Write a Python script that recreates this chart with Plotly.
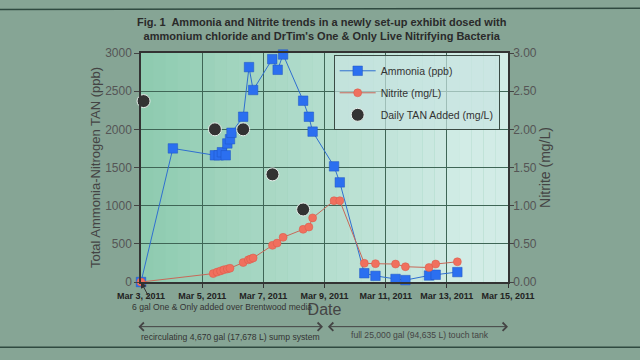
import plotly.graph_objects as go

# ---------------- data ----------------
amm_dates = ["2011-03-03 00:00", "2011-03-04 01:00", "2011-03-05 10:00", "2011-03-05 13:00",
             "2011-03-05 15:30", "2011-03-05 18:30", "2011-03-05 19:45", "2011-03-05 21:50",
             "2011-03-05 23:00", "2011-03-06 08:10", "2011-03-06 12:45", "2011-03-06 16:00",
             "2011-03-07 07:00", "2011-03-07 11:15", "2011-03-07 15:30", "2011-03-08 07:15",
             "2011-03-08 11:45", "2011-03-08 14:40", "2011-03-09 07:30", "2011-03-09 12:00",
             "2011-03-10 07:15", "2011-03-10 16:00", "2011-03-11 07:45", "2011-03-11 15:30",
             "2011-03-12 10:00", "2011-03-12 15:15", "2011-03-13 08:15"]
ammonia_ppb = [0, 1750, 1660, 1660, 1700, 1660, 1815, 1870, 1955, 2165, 2815, 2515,
               2920, 2780, 2980, 2375, 2165, 1970, 1515, 1305, 115, 80, 40, 25, 85, 95, 130]

nit_dates = ["2011-03-03 00:00", "2011-03-05 08:40", "2011-03-05 11:45", "2011-03-05 14:25",
             "2011-03-05 17:00", "2011-03-05 19:45", "2011-03-05 21:50", "2011-03-06 08:10",
             "2011-03-06 12:15", "2011-03-06 14:00", "2011-03-06 16:00", "2011-03-07 07:10",
             "2011-03-07 10:50", "2011-03-07 15:30", "2011-03-08 07:15", "2011-03-08 11:45",
             "2011-03-08 14:40", "2011-03-09 07:30", "2011-03-09 12:00", "2011-03-10 07:15",
             "2011-03-10 16:00", "2011-03-11 07:45", "2011-03-11 15:30", "2011-03-12 10:00",
             "2011-03-12 15:15", "2011-03-13 08:15"]
nitrite_mgl = [0, 0.11, 0.13, 0.145, 0.16, 0.17, 0.18, 0.255, 0.29, 0.30, 0.315, 0.48,
               0.51, 0.585, 0.69, 0.72, 0.84, 1.065, 1.065, 0.245, 0.24, 0.235, 0.20,
               0.19, 0.235, 0.265]

tan_dates = ["2011-03-03 02:00", "2011-03-05 10:00", "2011-03-06 08:10", "2011-03-07 07:10",
             "2011-03-08 07:15"]
tan_added_mgl = [2.37, 2.0, 2.0, 1.41, 0.95]

x_range = ["2011-03-03", "2011-03-15"]
tick_vals = ["2011-03-03", "2011-03-05", "2011-03-07", "2011-03-09",
             "2011-03-11", "2011-03-13", "2011-03-15"]
tick_text = ["Mar 3, 2011", "Mar 5, 2011", "Mar 7, 2011", "Mar 9, 2011",
             "Mar 11, 2011", "Mar 13, 2011", "Mar 15, 2011"]

title_text = ("<b>Fig. 1  Ammonia and Nitrite trends in a newly set-up exhibit dosed with<br>"
              "ammonium chloride and DrTim's One &amp; Only Live Nitrifying Bacteria</b>")

FONT = "Liberation Sans, Arial, sans-serif"
GRID = "#3f6656"

fig = go.Figure()
fig.add_trace(go.Scatter(
    x=amm_dates, y=ammonia_ppb, name="Ammonia (ppb)", mode="lines+markers",
    legendgroup="a",
    line=dict(color="#2f6fd0", width=1),
    marker=dict(symbol="square", size=9.5, color="#2b6ff0",
                line=dict(color="#1f55c0", width=0.5)),
    cliponaxis=False,
))
fig.add_trace(go.Scatter(
    x=nit_dates, y=nitrite_mgl, name="Nitrite (mg/L)", mode="lines+markers",
    yaxis="y2", legendgroup="n",
    line=dict(color="#c86858", width=1),
    marker=dict(symbol="circle", size=8, color="#f0705e",
                line=dict(color="#d85848", width=0.5)),
    cliponaxis=False,
))
fig.add_trace(go.Scatter(
    x=tan_dates, y=tan_added_mgl, name="Daily TAN Added (mg/L)", mode="markers",
    yaxis="y2", legendgroup="t",
    marker=dict(symbol="circle", size=13, color="#333333",
                line=dict(color="#e8f0ec", width=1)),
    cliponaxis=False,
))

annotations = [
    dict(text=title_text, xref="paper", yref="paper", x=0.492, y=1.0, xanchor="center",
         yanchor="bottom", yshift=9, showarrow=False,
         font=dict(family=FONT, size=11, color="#2a2a2a")),
    dict(text="6 gal One &amp; Only added over Brentwood media", xref="paper", yref="paper",
         x=-0.03, y=0, xanchor="left", yanchor="top", yshift=-18, showarrow=False,
         font=dict(family=FONT, size=8.6, color="#333333")),
    dict(x="2011-03-03", y=0, xref="x", yref="y", ax=10, ay=19, axref="pixel", ayref="pixel",
         text="", showarrow=True, arrowhead=2, arrowsize=1.2, arrowwidth=1, arrowcolor="#333333"),
    dict(text="recirculating 4,670 gal (17,678 L) sump system", xref="paper", yref="paper",
         x=0.245, y=0, xanchor="center", yanchor="top", yshift=-48, showarrow=False,
         font=dict(family=FONT, size=8.6, color="#333333")),
    dict(text="full 25,000 gal (94,635 L) touch tank", xref="paper", yref="paper",
         x=0.76, y=0, xanchor="center", yanchor="top", yshift=-46, showarrow=False,
         font=dict(family=FONT, size=8.6, color="#444444")),
    # double-headed range arrows
    dict(x="2011-03-02 22:00", y=-0.195, xref="x", yref="y domain", ax="2011-03-09 00:00",
         ay=-0.195, axref="x", ayref="y domain", text="", showarrow=True, arrowhead=4,
         startarrowhead=4, arrowside="end+start", arrowsize=1.6, arrowwidth=1,
         arrowcolor="#444444"),
    dict(x="2011-03-15 00:00", y=-0.195, xref="x", yref="y domain", ax="2011-03-09 01:30",
         ay=-0.195, axref="x", ayref="y domain", text="", showarrow=True, arrowhead=4,
         startarrowhead=4, arrowside="end+start", arrowsize=1.6, arrowwidth=1,
         arrowcolor="#444444"),
]

shapes = [
    dict(type="line", xref="paper", yref="paper", x0=-0.4, x1=1.4, y0=1.19, y1=1.195,
         line=dict(color="#2f4a40", width=1.5)),
    dict(type="line", xref="paper", yref="paper", x0=-0.4, x1=1.4, y0=-0.285, y1=-0.285,
         line=dict(color="#2f4a40", width=1.5)),
]
# soft left-to-right lightening of the plot background (decorative)
n_strips = 30
for i in range(n_strips):
    shapes.append(dict(type="rect", xref="x domain", yref="y domain",
                       x0=i / n_strips, x1=(i + 1) / n_strips, y0=0, y1=1,
                       fillcolor="#d2ece6", opacity=min(1.0, (i / n_strips) * 1.15),
                       line=dict(width=0), layer="below"))

fig.update_layout(
    width=640, height=360,
    margin=dict(l=141, r=132, t=53, b=78, autoexpand=False),
    paper_bgcolor="#86a595",
    plot_bgcolor="#8fcbb0",
    font=dict(family=FONT, color="#444444"),
    showlegend=True,
    legend=dict(x=0.525, y=0.99, xanchor="left", yanchor="top",
                bgcolor="rgba(200,228,225,0.7)", bordercolor="#3a4a44", borderwidth=1,
                font=dict(family=FONT, size=10.5, color="#333333"),
                itemwidth=36, tracegroupgap=3, entrywidth=0),
    xaxis=dict(type="date", range=x_range, tickvals=tick_vals, ticktext=tick_text,
               tickangle=0, automargin=False,
               tickfont=dict(family=FONT, size=9, color="#222222", weight="bold"),
               showgrid=True, gridcolor=GRID, gridwidth=1,
               showline=True, linecolor="#333333", linewidth=1.5, mirror=True,
               ticks="outside", ticklen=4, tickcolor="#333333",
               title=dict(text="Date", font=dict(family=FONT, size=16, color="#444444"),
                          standoff=3),
               zeroline=False),
    yaxis=dict(range=[0, 3000], tickvals=[0, 500, 1000, 1500, 2000, 2500, 3000],
               automargin=False,
               tickfont=dict(family=FONT, size=12, color="#555555"),
               showgrid=True, gridcolor=GRID, gridwidth=1,
               showline=True, linecolor="#333333", linewidth=1.5,
               ticks="outside", ticklen=5, tickcolor="#444444",
               title=dict(text="Total Ammonia-Nitrogen TAN (ppb)",
                          font=dict(family=FONT, size=13, color="#444444"), standoff=2),
               zeroline=False),
    yaxis2=dict(range=[0, 3], overlaying="y", side="right", automargin=False,
                tickvals=[0, 0.5, 1, 1.5, 2, 2.5, 3], tickformat=".2f",
                tickfont=dict(family=FONT, size=12, color="#555555"),
                showgrid=False, showline=True, linecolor="#333333", linewidth=1.5,
                ticks="outside", ticklen=4, tickcolor="#444444", ticklabelstandoff=-3,
                title=dict(text="Nitrite (mg/L)",
                           font=dict(family=FONT, size=14, color="#444444"), standoff=2),
                zeroline=False),
    annotations=annotations,
    shapes=shapes,
)

fig.write_html("out.html", config={"displayModeBar": False},
               post_script="document.body.style.margin='0px';")
